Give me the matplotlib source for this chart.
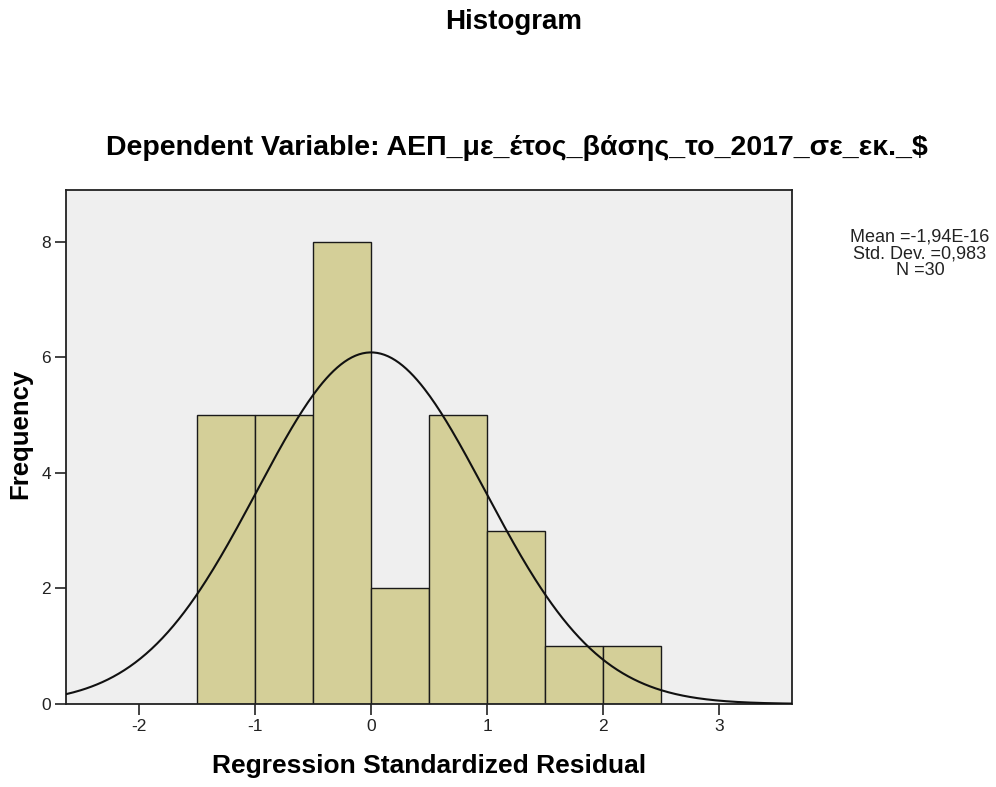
import numpy as np
import matplotlib
matplotlib.use("Agg")
import matplotlib.pyplot as plt

bin_edges = [-1.5, -1.0, -0.5, 0.0, 0.5, 1.0, 1.5, 2.0, 2.5]
counts = [5, 5, 8, 2, 5, 3, 1, 1]
mean = -1.94e-16
std = 0.983
n = 30
x_ticks = [-2, -1, 0, 1, 2, 3]
y_ticks = [0, 2, 4, 6, 8]

plt.rcParams['font.family'] = ['Liberation Sans', 'DejaVu Sans']

fig = plt.figure(figsize=(9.96, 7.87), dpi=100)
fig.patch.set_facecolor('white')
ax = fig.add_axes([0.0663, 0.1055, 0.7289, 0.6531])
ax.set_facecolor('#EFEFEF')

widths = np.diff(bin_edges)
ax.bar(bin_edges[:-1], counts, width=widths, align='edge',
       color='#D4CF98', edgecolor='#1a1a1a', linewidth=1.0, zorder=2)

xs = np.linspace(-2.63, 3.63, 400)
bw = widths[0]
ys = n * bw * np.exp(-0.5 * ((xs - mean) / std) ** 2) / (std * np.sqrt(2 * np.pi))
ax.plot(xs, ys, color='#111111', linewidth=1.5, zorder=3)

ax.set_xlim(-2.63, 3.63)
ax.set_ylim(0, 8.9)
ax.set_xticks(x_ticks)
ax.set_yticks(y_ticks)
ax.set_xticklabels([str(v) for v in x_ticks], fontsize=12.5)
ax.set_yticklabels([str(v) for v in y_ticks], fontsize=12.5)
ax.tick_params(direction='out', length=8, width=1.2, colors='#222222', pad=3)
for s in ax.spines.values():
    s.set_linewidth(1.3)
    s.set_color('#222222')

ax.set_xlabel('Regression Standardized Residual', fontsize=19, fontweight='bold')
ax.set_ylabel('Frequency', fontsize=18.5, fontweight='bold')
ax.xaxis.set_label_coords(0.5, -0.097)
ax.yaxis.set_label_coords(-0.047, 0.525)

fig.text(0.5154, 0.972, 'Histogram', ha='center', va='center', fontsize=20, fontweight='bold')
fig.text(0.519, 0.812, 'Dependent Variable: ΑΕΠ_με_έτος_βάσης_το_2017_σε_εκ._$',
         ha='center', va='center', fontsize=20.5, fontweight='bold')
fig.text(0.9237, 0.677, 'Mean =-1,94E-16\nStd. Dev. =0,983\nN =30', ha='center', va='center',
         fontsize=13, linespacing=0.98, color='#222222')

fig.savefig('out.png', dpi=100)
